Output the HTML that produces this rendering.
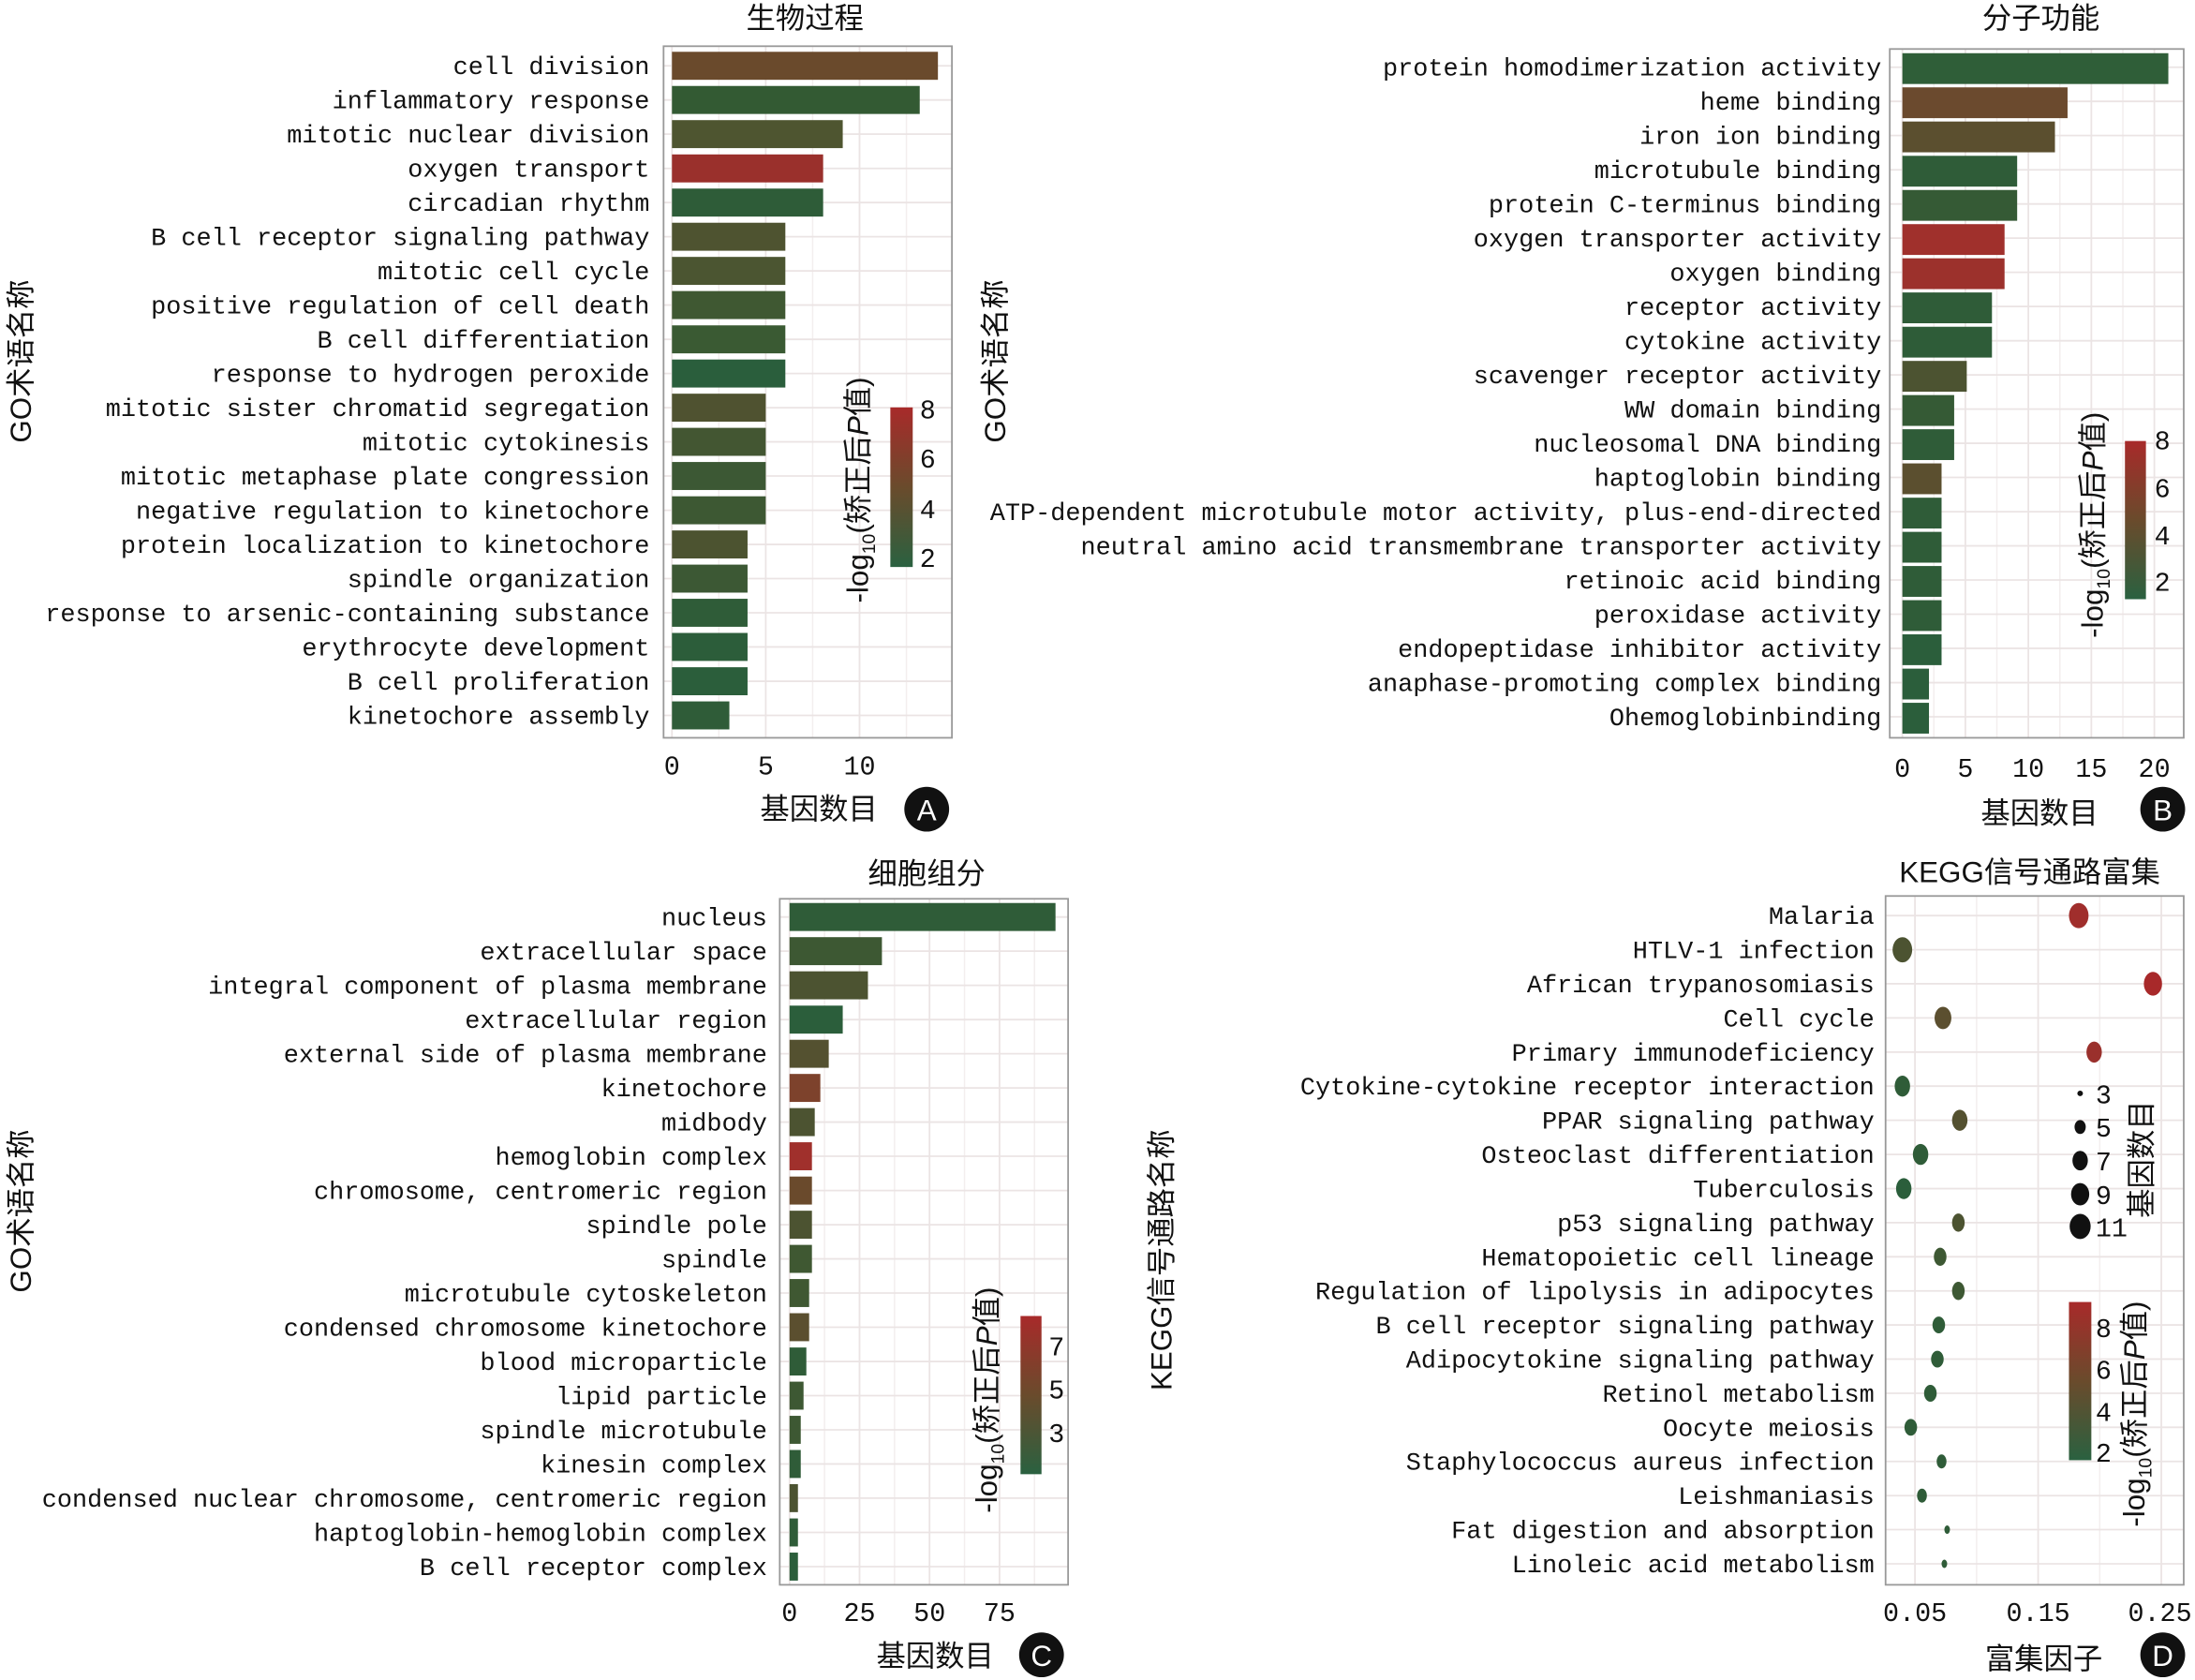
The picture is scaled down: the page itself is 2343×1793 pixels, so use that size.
<!DOCTYPE html>
<html><head><meta charset="utf-8"><style>
html,body{margin:0;padding:0;background:#fff}
svg{display:block}
.t{font-family:"Liberation Mono","Noto Sans CJK SC",monospace;font-size:18px;fill:#111}
.k{font-family:"Liberation Mono",monospace;font-size:19px;fill:#111}
.c{font-family:"Liberation Sans","Noto Sans CJK SC",sans-serif;font-size:21px;fill:#111}
.g{stroke:#ebe4e4;stroke-width:1.2}
.gm{stroke:#f3eeee;stroke-width:1}
.fr{fill:none;stroke:#999;stroke-width:1.2}
</style></head><body>
<svg width="2343" height="1793" viewBox="0 0 1568 1200" xmlns="http://www.w3.org/2000/svg">
<defs>
<linearGradient id="cb" x1="0" y1="0" x2="0" y2="1">
<stop offset="0" stop-color="#a82a2a"/><stop offset="0.5" stop-color="#6a4b2c"/><stop offset="1" stop-color="#2a6140"/>
</linearGradient>
</defs>

<!-- ===== Panel A ===== -->
<g>
<line class="gm" x1="513.5" y1="33" x2="513.5" y2="527"/><line class="gm" x1="580.5" y1="33" x2="580.5" y2="527"/><line class="gm" x1="647.5" y1="33" x2="647.5" y2="527"/>
<line class="g" x1="480" y1="33" x2="480" y2="527"/><line class="g" x1="547" y1="33" x2="547" y2="527"/><line class="g" x1="614" y1="33" x2="614" y2="527"/>
<g class="g">
<line x1="474" x2="680" y1="47" y2="47"/><line x1="474" x2="680" y1="71.4" y2="71.4"/><line x1="474" x2="680" y1="95.8" y2="95.8"/><line x1="474" x2="680" y1="120.3" y2="120.3"/><line x1="474" x2="680" y1="144.7" y2="144.7"/><line x1="474" x2="680" y1="169.1" y2="169.1"/><line x1="474" x2="680" y1="193.5" y2="193.5"/><line x1="474" x2="680" y1="217.9" y2="217.9"/><line x1="474" x2="680" y1="242.4" y2="242.4"/><line x1="474" x2="680" y1="266.8" y2="266.8"/><line x1="474" x2="680" y1="291.2" y2="291.2"/><line x1="474" x2="680" y1="315.6" y2="315.6"/><line x1="474" x2="680" y1="340" y2="340"/><line x1="474" x2="680" y1="364.5" y2="364.5"/><line x1="474" x2="680" y1="388.9" y2="388.9"/><line x1="474" x2="680" y1="413.3" y2="413.3"/><line x1="474" x2="680" y1="437.7" y2="437.7"/><line x1="474" x2="680" y1="462.1" y2="462.1"/><line x1="474" x2="680" y1="486.6" y2="486.6"/><line x1="474" x2="680" y1="511" y2="511"/>
</g>
<rect x="480" y="37" width="190" height="20" fill="#6a4a2c"/>
<rect x="480" y="61.4" width="177" height="20" fill="#335a33"/>
<rect x="480" y="85.8" width="122" height="20" fill="#4e5530"/>
<rect x="480" y="110.3" width="108" height="20" fill="#9a302c"/>
<rect x="480" y="134.7" width="108" height="20" fill="#2e5c38"/>
<rect x="480" y="159.1" width="81" height="20" fill="#4e5330"/>
<rect x="480" y="183.5" width="81" height="20" fill="#4b5531"/>
<rect x="480" y="207.9" width="81" height="20" fill="#3f5832"/>
<rect x="480" y="232.4" width="81" height="20" fill="#3a5a33"/>
<rect x="480" y="256.8" width="81" height="20" fill="#2a5e3c"/>
<rect x="480" y="281.2" width="67" height="20" fill="#4f5230"/>
<rect x="480" y="305.6" width="67" height="20" fill="#435632"/>
<rect x="480" y="330" width="67" height="20" fill="#3c5834"/>
<rect x="480" y="354.5" width="67" height="20" fill="#3d5833"/>
<rect x="480" y="378.9" width="54" height="20" fill="#4c5330"/>
<rect x="480" y="403.3" width="54" height="20" fill="#3c5834"/>
<rect x="480" y="427.7" width="54" height="20" fill="#2f5c38"/>
<rect x="480" y="452.1" width="54" height="20" fill="#2c5d3a"/>
<rect x="480" y="476.6" width="54" height="20" fill="#2b5e3b"/>
<rect x="480" y="501" width="41" height="20" fill="#2f5c38"/>
<rect class="fr" x="474" y="33" width="206" height="494"/>
<g class="t" text-anchor="end">
<text x="464" y="53">cell division</text><text x="464" y="77.4">inflammatory response</text><text x="464" y="101.8">mitotic nuclear division</text><text x="464" y="126.3">oxygen transport</text><text x="464" y="150.7">circadian rhythm</text><text x="464" y="175.1">B cell receptor signaling pathway</text><text x="464" y="199.5">mitotic cell cycle</text><text x="464" y="223.9">positive regulation of cell death</text><text x="464" y="248.4">B cell differentiation</text><text x="464" y="272.8">response to hydrogen peroxide</text><text x="464" y="297.2">mitotic sister chromatid segregation</text><text x="464" y="321.6">mitotic cytokinesis</text><text x="464" y="346">mitotic metaphase plate congression</text><text x="464" y="370.5">negative regulation to kinetochore</text><text x="464" y="394.9">protein localization to kinetochore</text><text x="464" y="419.3">spindle organization</text><text x="464" y="443.7">response to arsenic-containing substance</text><text x="464" y="468.1">erythrocyte development</text><text x="464" y="492.6">B cell proliferation</text><text x="464" y="517">kinetochore assembly</text>
</g>
<g class="k" text-anchor="middle"><text x="480" y="553">0</text><text x="547" y="553">5</text><text x="614" y="553">10</text></g>
<text class="c" x="575" y="20" text-anchor="middle">生物过程</text>
<text class="c" x="585" y="585" text-anchor="middle">基因数目</text>
<circle cx="662" cy="578" r="16" fill="#111"/><text x="662" y="586" text-anchor="middle" font-family="Liberation Sans" font-size="21" fill="#fff">A</text>
<text class="c" transform="translate(22,258) rotate(-90)" text-anchor="middle">GO术语名称</text>
<rect x="636" y="291" width="16" height="114" fill="url(#cb)"/>
<g class="k"><text x="657" y="299">8</text><text x="657" y="334">6</text><text x="657" y="370">4</text><text x="657" y="405">2</text></g>
<text class="c" transform="translate(620,350) rotate(-90)" text-anchor="middle">-log<tspan font-size="13" dy="5">10</tspan><tspan dy="-5">(矫正后</tspan><tspan font-style="italic">P</tspan>值)</text>
</g>

<!-- ===== Panel B ===== -->
<g>
<line class="gm" x1="1381.5" y1="35" x2="1381.5" y2="527"/><line class="gm" x1="1426.5" y1="35" x2="1426.5" y2="527"/><line class="gm" x1="1471.5" y1="35" x2="1471.5" y2="527"/><line class="gm" x1="1516.5" y1="35" x2="1516.5" y2="527"/>
<line class="g" x1="1359" y1="35" x2="1359" y2="527"/><line class="g" x1="1404" y1="35" x2="1404" y2="527"/><line class="g" x1="1449" y1="35" x2="1449" y2="527"/><line class="g" x1="1494" y1="35" x2="1494" y2="527"/><line class="g" x1="1539" y1="35" x2="1539" y2="527"/>
<g class="g">
<line x1="1350" x2="1560" y1="48" y2="48"/><line x1="1350" x2="1560" y1="72.4" y2="72.4"/><line x1="1350" x2="1560" y1="96.8" y2="96.8"/><line x1="1350" x2="1560" y1="121.3" y2="121.3"/><line x1="1350" x2="1560" y1="145.7" y2="145.7"/><line x1="1350" x2="1560" y1="170.1" y2="170.1"/><line x1="1350" x2="1560" y1="194.5" y2="194.5"/><line x1="1350" x2="1560" y1="218.9" y2="218.9"/><line x1="1350" x2="1560" y1="243.4" y2="243.4"/><line x1="1350" x2="1560" y1="267.8" y2="267.8"/><line x1="1350" x2="1560" y1="292.2" y2="292.2"/><line x1="1350" x2="1560" y1="316.6" y2="316.6"/><line x1="1350" x2="1560" y1="341" y2="341"/><line x1="1350" x2="1560" y1="365.5" y2="365.5"/><line x1="1350" x2="1560" y1="389.9" y2="389.9"/><line x1="1350" x2="1560" y1="414.3" y2="414.3"/><line x1="1350" x2="1560" y1="438.7" y2="438.7"/><line x1="1350" x2="1560" y1="463.1" y2="463.1"/><line x1="1350" x2="1560" y1="487.6" y2="487.6"/><line x1="1350" x2="1560" y1="512" y2="512"/>
</g>
<rect x="1359" y="38" width="190" height="22" fill="#2f5e38"/>
<rect x="1359" y="62.4" width="118" height="22" fill="#6b4a2e"/>
<rect x="1359" y="86.8" width="109" height="22" fill="#5b4f2f"/>
<rect x="1359" y="111.3" width="82" height="22" fill="#2f5c38"/>
<rect x="1359" y="135.7" width="82" height="22" fill="#355a35"/>
<rect x="1359" y="160.1" width="73" height="22" fill="#a0302c"/>
<rect x="1359" y="184.5" width="73" height="22" fill="#9c312c"/>
<rect x="1359" y="208.9" width="64" height="22" fill="#2f5c38"/>
<rect x="1359" y="233.4" width="64" height="22" fill="#2e5c38"/>
<rect x="1359" y="257.8" width="46" height="22" fill="#4c5331"/>
<rect x="1359" y="282.2" width="37" height="22" fill="#355a35"/>
<rect x="1359" y="306.6" width="37" height="22" fill="#2f5c38"/>
<rect x="1359" y="331" width="28" height="22" fill="#5b4f2f"/>
<rect x="1359" y="355.5" width="28" height="22" fill="#2f5c38"/>
<rect x="1359" y="379.9" width="28" height="22" fill="#2f5c38"/>
<rect x="1359" y="404.3" width="28" height="22" fill="#2f5c38"/>
<rect x="1359" y="428.7" width="28" height="22" fill="#2f5c38"/>
<rect x="1359" y="453.1" width="28" height="22" fill="#2b5e3b"/>
<rect x="1359" y="477.6" width="19" height="22" fill="#2b5e3b"/>
<rect x="1359" y="502" width="19" height="22" fill="#2b5e3b"/>
<rect class="fr" x="1350" y="35" width="210" height="492"/>
<g class="t" text-anchor="end">
<text x="1344" y="54">protein homodimerization activity</text><text x="1344" y="78.4">heme binding</text><text x="1344" y="102.8">iron ion binding</text><text x="1344" y="127.3">microtubule binding</text><text x="1344" y="151.7">protein C-terminus binding</text><text x="1344" y="176.1">oxygen transporter activity</text><text x="1344" y="200.5">oxygen binding</text><text x="1344" y="224.9">receptor activity</text><text x="1344" y="249.4">cytokine activity</text><text x="1344" y="273.8">scavenger receptor activity</text><text x="1344" y="298.2">WW domain binding</text><text x="1344" y="322.6">nucleosomal DNA binding</text><text x="1344" y="347">haptoglobin binding</text><text x="1344" y="371.5">ATP-dependent microtubule motor activity, plus-end-directed</text><text x="1344" y="395.9">neutral amino acid transmembrane transporter activity</text><text x="1344" y="420.3">retinoic acid binding</text><text x="1344" y="444.7">peroxidase activity</text><text x="1344" y="469.1">endopeptidase inhibitor activity</text><text x="1344" y="493.6">anaphase-promoting complex binding</text><text x="1344" y="518">Ohemoglobinbinding</text>
</g>
<g class="k" text-anchor="middle"><text x="1359" y="555">0</text><text x="1404" y="555">5</text><text x="1449" y="555">10</text><text x="1494" y="555">15</text><text x="1539" y="555">20</text></g>
<text class="c" x="1458" y="20" text-anchor="middle">分子功能</text>
<text class="c" x="1457" y="588" text-anchor="middle">基因数目</text>
<circle cx="1545" cy="578" r="16" fill="#111"/><text x="1545" y="586" text-anchor="middle" font-family="Liberation Sans" font-size="21" fill="#fff">B</text>
<text class="c" transform="translate(718,258) rotate(-90)" text-anchor="middle">GO术语名称</text>
<rect x="1518" y="315" width="15" height="113" fill="url(#cb)"/>
<g class="k"><text x="1539" y="321">8</text><text x="1539" y="355">6</text><text x="1539" y="389">4</text><text x="1539" y="422">2</text></g>
<text class="c" transform="translate(1502,375) rotate(-90)" text-anchor="middle">-log<tspan font-size="13" dy="5">10</tspan><tspan dy="-5">(矫正后</tspan><tspan font-style="italic">P</tspan>值)</text>
</g>

<!-- ===== Panel C ===== -->
<g>
<line class="gm" x1="589" y1="642" x2="589" y2="1132"/><line class="gm" x1="639" y1="642" x2="639" y2="1132"/><line class="gm" x1="689" y1="642" x2="689" y2="1132"/><line class="gm" x1="739" y1="642" x2="739" y2="1132"/>
<line class="g" x1="564" y1="642" x2="564" y2="1132"/><line class="g" x1="614" y1="642" x2="614" y2="1132"/><line class="g" x1="664" y1="642" x2="664" y2="1132"/><line class="g" x1="714" y1="642" x2="714" y2="1132"/>
<g class="g">
<line x1="557" x2="763" y1="655" y2="655"/><line x1="557" x2="763" y1="679.4" y2="679.4"/><line x1="557" x2="763" y1="703.8" y2="703.8"/><line x1="557" x2="763" y1="728.3" y2="728.3"/><line x1="557" x2="763" y1="752.7" y2="752.7"/><line x1="557" x2="763" y1="777.1" y2="777.1"/><line x1="557" x2="763" y1="801.5" y2="801.5"/><line x1="557" x2="763" y1="825.9" y2="825.9"/><line x1="557" x2="763" y1="850.4" y2="850.4"/><line x1="557" x2="763" y1="874.8" y2="874.8"/><line x1="557" x2="763" y1="899.2" y2="899.2"/><line x1="557" x2="763" y1="923.6" y2="923.6"/><line x1="557" x2="763" y1="948" y2="948"/><line x1="557" x2="763" y1="972.5" y2="972.5"/><line x1="557" x2="763" y1="996.9" y2="996.9"/><line x1="557" x2="763" y1="1021.3" y2="1021.3"/><line x1="557" x2="763" y1="1045.7" y2="1045.7"/><line x1="557" x2="763" y1="1070.1" y2="1070.1"/><line x1="557" x2="763" y1="1094.6" y2="1094.6"/><line x1="557" x2="763" y1="1119" y2="1119"/>
</g>
<rect x="564" y="645" width="190" height="20" fill="#2f5c38"/>
<rect x="564" y="669.4" width="66" height="20" fill="#3d5833"/>
<rect x="564" y="693.8" width="56" height="20" fill="#4c5331"/>
<rect x="564" y="718.3" width="38" height="20" fill="#2b5e3b"/>
<rect x="564" y="742.7" width="28" height="20" fill="#545130"/>
<rect x="564" y="767.1" width="22" height="20" fill="#7d422c"/>
<rect x="564" y="791.5" width="18" height="20" fill="#4c5331"/>
<rect x="564" y="815.9" width="16" height="20" fill="#a0302c"/>
<rect x="564" y="840.4" width="16" height="20" fill="#6a4a2c"/>
<rect x="564" y="864.8" width="16" height="20" fill="#4c5331"/>
<rect x="564" y="889.2" width="16" height="20" fill="#3f5832"/>
<rect x="564" y="913.6" width="14" height="20" fill="#3f5832"/>
<rect x="564" y="938" width="14" height="20" fill="#5b4f2f"/>
<rect x="564" y="962.5" width="12" height="20" fill="#2f5c38"/>
<rect x="564" y="986.9" width="10" height="20" fill="#3d5833"/>
<rect x="564" y="1011.3" width="8" height="20" fill="#3d5833"/>
<rect x="564" y="1035.7" width="8" height="20" fill="#2f5c38"/>
<rect x="564" y="1060.1" width="6" height="20" fill="#4c5331"/>
<rect x="564" y="1084.6" width="6" height="20" fill="#2f5c38"/>
<rect x="564" y="1109" width="6" height="20" fill="#2b5e3b"/>
<rect class="fr" x="557" y="642" width="206" height="490"/>
<g class="t" text-anchor="end">
<text x="548" y="661">nucleus</text><text x="548" y="685.4">extracellular space</text><text x="548" y="709.8">integral component of plasma membrane</text><text x="548" y="734.3">extracellular region</text><text x="548" y="758.7">external side of plasma membrane</text><text x="548" y="783.1">kinetochore</text><text x="548" y="807.5">midbody</text><text x="548" y="831.9">hemoglobin complex</text><text x="548" y="856.4">chromosome, centromeric region</text><text x="548" y="880.8">spindle pole</text><text x="548" y="905.2">spindle</text><text x="548" y="929.6">microtubule cytoskeleton</text><text x="548" y="954">condensed chromosome kinetochore</text><text x="548" y="978.5">blood microparticle</text><text x="548" y="1002.9">lipid particle</text><text x="548" y="1027.3">spindle microtubule</text><text x="548" y="1051.7">kinesin complex</text><text x="548" y="1076.1">condensed nuclear chromosome, centromeric region</text><text x="548" y="1100.6">haptoglobin-hemoglobin complex</text><text x="548" y="1125">B cell receptor complex</text>
</g>
<g class="k" text-anchor="middle"><text x="564" y="1158">0</text><text x="614" y="1158">25</text><text x="664" y="1158">50</text><text x="714" y="1158">75</text></g>
<text class="c" x="662" y="631" text-anchor="middle">细胞组分</text>
<text class="c" x="668" y="1190" text-anchor="middle">基因数目</text>
<circle cx="744" cy="1182" r="16" fill="#111"/><text x="744" y="1190" text-anchor="middle" font-family="Liberation Sans" font-size="21" fill="#fff">C</text>
<text class="c" transform="translate(22,865) rotate(-90)" text-anchor="middle">GO术语名称</text>
<rect x="729" y="940" width="15" height="113" fill="url(#cb)"/>
<g class="k"><text x="749" y="968">7</text><text x="749" y="999">5</text><text x="749" y="1030">3</text></g>
<text class="c" transform="translate(712,1000) rotate(-90)" text-anchor="middle">-log<tspan font-size="13" dy="5">10</tspan><tspan dy="-5">(矫正后</tspan><tspan font-style="italic">P</tspan>值)</text>
</g>

<!-- ===== Panel D ===== -->
<g>
<line class="gm" x1="1412" y1="640" x2="1412" y2="1132"/><line class="gm" x1="1500" y1="640" x2="1500" y2="1132"/>
<line class="g" x1="1368" y1="640" x2="1368" y2="1132"/><line class="g" x1="1456" y1="640" x2="1456" y2="1132"/><line class="g" x1="1544" y1="640" x2="1544" y2="1132"/>
<g class="g">
<line x1="1347" x2="1560" y1="654" y2="654"/><line x1="1347" x2="1560" y1="678.4" y2="678.4"/><line x1="1347" x2="1560" y1="702.7" y2="702.7"/><line x1="1347" x2="1560" y1="727.1" y2="727.1"/><line x1="1347" x2="1560" y1="751.5" y2="751.5"/><line x1="1347" x2="1560" y1="775.8" y2="775.8"/><line x1="1347" x2="1560" y1="800.2" y2="800.2"/><line x1="1347" x2="1560" y1="824.6" y2="824.6"/><line x1="1347" x2="1560" y1="849" y2="849"/><line x1="1347" x2="1560" y1="873.3" y2="873.3"/><line x1="1347" x2="1560" y1="897.7" y2="897.7"/><line x1="1347" x2="1560" y1="922.1" y2="922.1"/><line x1="1347" x2="1560" y1="946.4" y2="946.4"/><line x1="1347" x2="1560" y1="970.8" y2="970.8"/><line x1="1347" x2="1560" y1="995.2" y2="995.2"/><line x1="1347" x2="1560" y1="1019.5" y2="1019.5"/><line x1="1347" x2="1560" y1="1043.9" y2="1043.9"/><line x1="1347" x2="1560" y1="1068.3" y2="1068.3"/><line x1="1347" x2="1560" y1="1092.6" y2="1092.6"/><line x1="1347" x2="1560" y1="1117" y2="1117"/>
</g>
<ellipse cx="1485" cy="654" rx="7" ry="9" fill="#a02e2c"/>
<ellipse cx="1359" cy="678.4" rx="7" ry="9" fill="#4c5331"/>
<ellipse cx="1538" cy="702.7" rx="6.5" ry="8.5" fill="#a8292a"/>
<ellipse cx="1388" cy="727.1" rx="6" ry="8" fill="#5b4f2f"/>
<ellipse cx="1496" cy="751.5" rx="5.5" ry="7.5" fill="#9a302c"/>
<ellipse cx="1359" cy="775.8" rx="5.5" ry="7.5" fill="#2f5c38"/>
<ellipse cx="1400" cy="800.2" rx="5.5" ry="7.5" fill="#545130"/>
<ellipse cx="1372" cy="824.6" rx="5.5" ry="7.5" fill="#2f5c38"/>
<ellipse cx="1360" cy="849" rx="5.5" ry="7.5" fill="#2b5e3b"/>
<ellipse cx="1399" cy="873.3" rx="4.5" ry="6.5" fill="#4c5331"/>
<ellipse cx="1386" cy="897.7" rx="4.5" ry="6.5" fill="#3d5833"/>
<ellipse cx="1399" cy="922.1" rx="4.5" ry="6.5" fill="#3d5833"/>
<ellipse cx="1385" cy="946.4" rx="4.5" ry="6" fill="#2f5c38"/>
<ellipse cx="1384" cy="970.8" rx="4.5" ry="6" fill="#2f5c38"/>
<ellipse cx="1379" cy="995.2" rx="4.5" ry="6" fill="#2f5c38"/>
<ellipse cx="1365" cy="1019.5" rx="4.5" ry="6" fill="#2f5c38"/>
<ellipse cx="1387" cy="1043.9" rx="3.5" ry="5" fill="#2f5c38"/>
<ellipse cx="1373" cy="1068.3" rx="3.5" ry="5" fill="#2f5c38"/>
<ellipse cx="1391" cy="1092.6" rx="2" ry="3" fill="#2f5c38"/>
<ellipse cx="1389" cy="1117" rx="2" ry="3" fill="#2f5c38"/>
<rect class="fr" x="1347" y="640" width="213" height="492"/>
<g class="t" text-anchor="end">
<text x="1339" y="660">Malaria</text><text x="1339" y="684.4">HTLV-1 infection</text><text x="1339" y="708.7">African trypanosomiasis</text><text x="1339" y="733.1">Cell cycle</text><text x="1339" y="757.5">Primary immunodeficiency</text><text x="1339" y="781.8">Cytokine-cytokine receptor interaction</text><text x="1339" y="806.2">PPAR signaling pathway</text><text x="1339" y="830.6">Osteoclast differentiation</text><text x="1339" y="855">Tuberculosis</text><text x="1339" y="879.3">p53 signaling pathway</text><text x="1339" y="903.7">Hematopoietic cell lineage</text><text x="1339" y="928.1">Regulation of lipolysis in adipocytes</text><text x="1339" y="952.4">B cell receptor signaling pathway</text><text x="1339" y="976.8">Adipocytokine signaling pathway</text><text x="1339" y="1001.2">Retinol metabolism</text><text x="1339" y="1025.5">Oocyte meiosis</text><text x="1339" y="1049.9">Staphylococcus aureus infection</text><text x="1339" y="1074.3">Leishmaniasis</text><text x="1339" y="1098.6">Fat digestion and absorption</text><text x="1339" y="1123">Linoleic acid metabolism</text>
</g>
<g class="k" text-anchor="middle"><text x="1368" y="1158">0.05</text><text x="1456" y="1158">0.15</text><text x="1543" y="1158">0.25</text></g>
<text class="c" x="1450" y="630" text-anchor="middle">KEGG信号通路富集</text>
<text class="c" x="1460" y="1192" text-anchor="middle">富集因子</text>
<circle cx="1545" cy="1182" r="16" fill="#111"/><text x="1545" y="1190" text-anchor="middle" font-family="Liberation Sans" font-size="21" fill="#fff">D</text>
<text class="c" transform="translate(837,900) rotate(-90)" text-anchor="middle">KEGG信号通路名称</text>
<circle cx="1486" cy="781" r="2" fill="#111"/><ellipse cx="1486" cy="805" rx="4" ry="5" fill="#111"/><ellipse cx="1486" cy="829" rx="5.5" ry="7" fill="#111"/><ellipse cx="1486" cy="853" rx="6.5" ry="8" fill="#111"/><ellipse cx="1486" cy="876" rx="7.5" ry="9" fill="#111"/>
<g class="k"><text x="1497" y="788">3</text><text x="1497" y="812">5</text><text x="1497" y="836">7</text><text x="1497" y="860">9</text><text x="1497" y="883">11</text></g>
<text class="c" transform="translate(1537,828) rotate(-90)" text-anchor="middle">基因数目</text>
<rect x="1478" y="930" width="16" height="113" fill="url(#cb)"/>
<g class="k"><text x="1497" y="955">8</text><text x="1497" y="985">6</text><text x="1497" y="1015">4</text><text x="1497" y="1044">2</text></g>
<text class="c" transform="translate(1532,1010) rotate(-90)" text-anchor="middle">-log<tspan font-size="13" dy="5">10</tspan><tspan dy="-5">(矫正后</tspan><tspan font-style="italic">P</tspan>值)</text>
</g>
</svg>
</body></html>
